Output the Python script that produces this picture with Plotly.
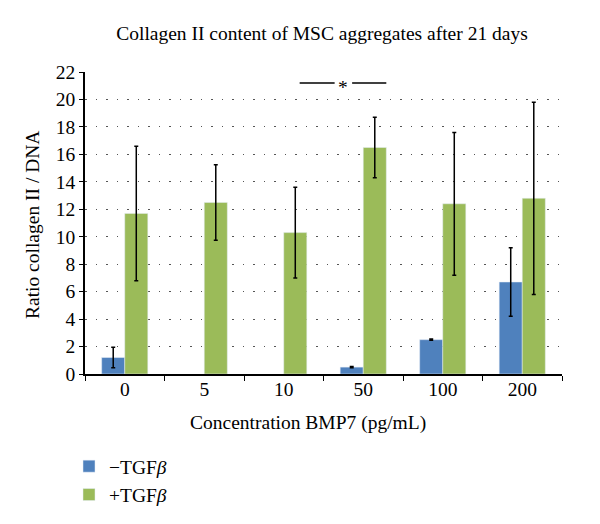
import plotly.graph_objects as go

categories = ["0", "5", "10", "50", "100", "200"]
minus_tgf = [1.2, None, None, 0.5, 2.5, 6.7]
minus_err = [0.75, 0, 0, 0.05, 0.05, 2.5]
plus_tgf = [11.7, 12.5, 10.3, 16.5, 12.4, 12.8]
plus_err = [4.9, 2.75, 3.3, 2.2, 5.2, 7.0]
y_ticks = list(range(0, 23, 2))

FONT = "Liberation Serif"
BLUE = "#4F81BD"
GREEN = "#9BBB59"
FS = 19.5

# plot-area pixel geometry
L, R, T, B = 85, 562, 72, 374
W, H = 600, 524
pw, ph = R - L, B - T


def px_x(x):
    return (x - L) / pw


def px_y(y):
    return (B - y) / ph


fig = go.Figure()
fig.add_trace(go.Bar(
    x=categories, y=minus_tgf, name="\u2212TGF<i>\u03b2</i>", marker_color=BLUE,
    error_y=dict(type="data", array=minus_err, color="black", thickness=1.5, width=2),
))
fig.add_trace(go.Bar(
    x=categories, y=plus_tgf, name="+TGF<i>\u03b2</i>", marker_color=GREEN,
    error_y=dict(type="data", array=plus_err, color="black", thickness=1.5, width=2),
))

fig.update_layout(
    width=W, height=H,
    margin=dict(l=L, r=W - R, t=T, b=H - B, autoexpand=False),
    paper_bgcolor="white", plot_bgcolor="white",
    font=dict(family=FONT, size=FS, color="black"),
    barmode="group", bargap=0.42, bargroupgap=0,
    title=dict(text="Collagen II content of MSC aggregates after 21 days",
               x=322 / W, xref="container", xanchor="center",
               y=1 - 33 / H, yref="container", yanchor="middle",
               font=dict(family=FONT, size=FS)),
    legend=dict(x=px_x(69), y=px_y(447), xanchor="left", yanchor="top",
                orientation="v", font=dict(family=FONT, size=FS),
                tracegroupgap=0),
    showlegend=True,
)
fig.update_xaxes(
    type="category", range=[-0.5, 5.5],
    showline=True, linecolor="black", linewidth=1.5,
    ticks="outside", tickson="boundaries", ticklen=5, tickcolor="black",
    showgrid=False, tickfont=dict(size=FS), automargin=False,
    ticklabelstandoff=-3,
)
fig.update_yaxes(
    range=[0, 22], tickvals=y_ticks,
    showline=True, linecolor="black", linewidth=1.5,
    ticks="outside", ticklen=4, tickcolor="black",
    showgrid=True, gridcolor="#555555", gridwidth=1, griddash="1.5px,9px",
    zeroline=False, tickfont=dict(size=FS), automargin=False,
)

# axis titles
fig.add_annotation(text="Concentration BMP7 (pg/mL)", x=px_x(308), xref="paper",
                   y=px_y(423), yref="paper", yanchor="middle", xanchor="center",
                   showarrow=False, font=dict(size=FS))
fig.add_annotation(text="Ratio collagen II / DNA", x=px_x(32), xref="paper",
                   y=px_y(225), yref="paper", yanchor="middle", xanchor="center",
                   textangle=-90, showarrow=False, font=dict(size=FS))

# significance marker
fig.add_shape(type="line", xref="x", yref="y", x0=2.2, x1=2.64, y0=21.2, y1=21.2,
              line=dict(color="black", width=1.3))
fig.add_shape(type="line", xref="x", yref="y", x0=2.86, x1=3.29, y0=21.2, y1=21.2,
              line=dict(color="black", width=1.3))
fig.add_annotation(text="*", x=2.75, xref="x", y=20.9, yref="y", showarrow=False,
                   font=dict(size=FS), yanchor="middle")

fig.write_html("out.html", post_script="document.body.style.margin='0';",
               config={"displayModeBar": False})
